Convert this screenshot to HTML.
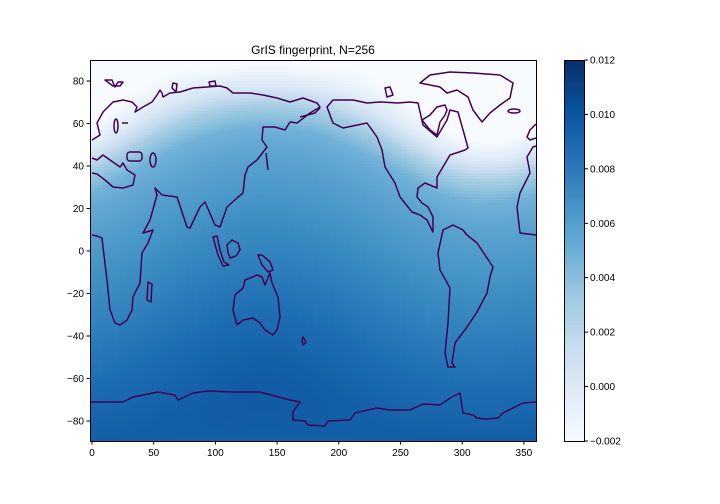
<!DOCTYPE html>
<html><head><meta charset="utf-8"><style>
body{margin:0;background:#fff;}
#wrap{position:relative;width:720px;height:504px;font-family:"Liberation Sans",sans-serif;}
canvas{position:absolute;image-rendering:pixelated;}
svg{position:absolute;left:0;top:0;}
text{font-family:"Liberation Sans",sans-serif;font-size:10px;fill:#000;}
</style></head><body>
<div id="wrap">
<canvas id="heat" width="256" height="128" style="left:90px;top:60px;width:446px;height:381px"></canvas>
<canvas id="cbar" width="1" height="200" style="left:564px;top:60px;width:20px;height:381px"></canvas>
<svg id="svg" width="720" height="504">
<text x="313" y="54" text-anchor="middle" style="font-size:12px">GrIS fingerprint, N=256</text>
<g id="coast" fill="none" stroke="#440154" stroke-width="1.5" stroke-linejoin="round">
<path d="M92,140 L100,135 L97,123 L103,112 L113,102 L123,100 L132,102 L137,107 L135,112 L143,107 L152,102 L157,95 L160,90 L162,93 L163,97 L170,93 L180,92 L193,88 L207,87 L220,86 L227,88 L233,93 L250,93 L263,95 L277,98 L290,102 L303,98 L317,103 L320,107 L310,113 L297,123 L290,122 L285,130 L275,127 L263,127 L262,140 L267,147 L257,160 L248,167 L245,175 L243,193 L237,198 L227,207 L220,227 L215,225 L205,202 L200,207 L190,228 L187,227 L177,197 L162,195 L155,188 L157,195 L150,220 L143,233 L153,230 L148,243 L142,253 L140,283 L133,297 L132,310 L127,320 L120,325 L115,323 L110,310 L107,280 L103,247 L102,238 L97,236 L92,235"/>
<path d="M300,117 L315,113 L320,108"/>
<path d="M92,158 L97,160 L103,155 L110,160 L120,167 L123,163 L127,170 L135,175 L133,185 L123,188 L113,187 L105,180 L97,174 L92,173"/>
<path d="M536,235 L520,233 L517,207 L520,193 L530,173 L527,157 L533,147 L536,146"/>
<path d="M536,124 L530,130 L527,137 L530,140 L536,138"/>
<ellipse cx="153" cy="160" rx="3" ry="7"/><rect x="127" y="152" width="15" height="9" rx="3"/>
<path d="M266,153 L268,170"/><path d="M148,282 L152,284 L151,302 L147,300 Z"/>
<ellipse cx="116" cy="126" rx="2" ry="7"/><path d="M122,123 L128,123"/>
<path d="M105,80 L112,80 L115,87 L118,82 L123,82 L120,86 L113,86 Z"/>
<path d="M173,83 L177,84 L176,92 L172,88 Z"/><path d="M209,82 L215,81 L216,86 L210,86 Z"/>
<path d="M245,280 L250,278 L257,275 L262,277 L265,285 L270,273 L272,283 L278,297 L280,317 L277,330 L273,335 L265,330 L260,323 L253,318 L243,320 L237,325 L233,310 L235,295 L243,288 Z"/>
<path d="M258,255 L262,255 L270,262 L273,270 L268,272 L262,265 Z"/>
<path d="M227,245 L232,240 L238,243 L240,250 L236,256 L230,258 L228,252 Z"/>
<path d="M213,237 L217,236 L220,250 L224,262 L229,265 L223,266 L218,255 Z"/>
<path d="M303,337 L306,342 L303,345 L302,341 Z"/>
<path d="M327,107 L333,123 L343,128 L367,123 L377,137 L382,150 L385,167 L395,183 L400,197 L412,212 L420,215 L427,220 L433,232 L433,217 L428,207 L422,203 L417,197 L418,188 L425,183 L437,188 L437,177 L450,155 L465,150 L468,148 L465,137 L458,112 L450,110 L447,120 L437,137 L423,125 L418,103 L410,102 L398,103 L380,102 L367,103 L353,100 L333,100 Z"/>
<path d="M420,83 L430,75 L450,72 L473,73 L500,75 L513,83 L510,98 L500,105 L490,113 L482,122 L473,110 L468,97 L457,90 L447,93 L440,87 Z"/>
<path d="M422,120 L430,115 L437,107 L445,105 L447,110 L445,115 L440,122 L437,135 L430,130 Z"/>
<path d="M385,88 L390,87 L393,95 L387,97 Z"/><ellipse cx="514" cy="111" rx="6" ry="2"/>
<path d="M443,230 L453,225 L463,230 L467,235 L477,243 L487,258 L493,267 L490,277 L487,293 L477,312 L467,327 L455,343 L452,363 L455,367 L448,367 L445,353 L448,323 L450,288 L440,270 L438,253 Z"/>
<path d="M90,402 L123,402 L133,397 L158,392 L175,395 L178,400 L193,393 L208,391 L233,392 L260,392 L290,400 L300,402 L293,412 L293,420 L305,421 L308,425 L325,426 L328,421 L350,420 L355,413 L377,408 L390,410 L410,410 L423,404 L440,405 L450,398 L460,393 L463,413 L473,415 L477,418 L485,419 L498,418 L503,413 L523,403 L536,402"/>
</g>
<rect x="90.5" y="60.5" width="446" height="381" fill="none" stroke="#000" stroke-width="1"/>
<rect x="564.5" y="60.5" width="20" height="381" fill="none" stroke="#000" stroke-width="1"/>
<g id="axes"></g>
</svg>
</div>
<script>
// fingerprint profile vs angular distance from Greenland
const distDeg = [0,10,20,30,40,50,60,70,80,90,100,110,120,130,140,150,160,170,180];
const fpValue = [-0.004,-0.003,-0.002,0.0,0.003,0.0048,0.0055,0.006,0.0064,0.0068,0.0072,0.0076,0.0080,0.0084,0.0088,0.0091,0.0094,0.0096,0.0097];
const xTicks = [0,50,100,150,200,250,300,350];
const yTicks = [-80,-60,-40,-20,0,20,40,60,80];
const cbTicks = [-0.002,0,0.002,0.004,0.006,0.008,0.010,0.012];
const cbLabels = ["\u22120.002","0.000","0.002","0.004","0.006","0.008","0.010","0.012"];
const src = [72,-40];
const vmin=-0.002, vmax=0.012;
const xs = lon => 92 + lon*1.234;
const ys = lat => 251 - lat*2.125;
const cy = v => 441 - (v-vmin)/(vmax-vmin)*381;
const blues=[[247,251,255],[222,235,247],[198,219,239],[158,202,225],[107,174,214],[66,146,198],[33,113,181],[8,81,156],[8,48,107]];
function cmap(t){t=Math.max(0,Math.min(1,t));const f=t*8,i=Math.min(7,Math.floor(f)),r=f-i;return blues[i].map((c,k)=>Math.round(c+(blues[i+1][k]-c)*r));}
function prof(d){for(let i=0;i<distDeg.length-1;i++){if(d<=distDeg[i+1]){const r=(d-distDeg[i])/(distDeg[i+1]-distDeg[i]);return fpValue[i]+(fpValue[i+1]-fpValue[i])*r;}}return fpValue[fpValue.length-1];}
const R=Math.PI/180;
const hc=document.getElementById('heat').getContext('2d');
const img=hc.createImageData(256,128);
for(let j=0;j<128;j++){const lat=90-(j+0.5)*180/128;
 for(let i=0;i<256;i++){const lon=-1.6+(i+0.5)*360/256;
  const c=Math.sin(lat*R)*Math.sin(src[0]*R)+Math.cos(lat*R)*Math.cos(src[0]*R)*Math.cos((lon-src[1])*R);
  const d=Math.acos(Math.max(-1,Math.min(1,c)))/R;
  const col=cmap((prof(d)-vmin)/(vmax-vmin));const o=(j*256+i)*4;
  img.data[o]=col[0];img.data[o+1]=col[1];img.data[o+2]=col[2];img.data[o+3]=255;}}
hc.putImageData(img,0,0);
const cc=document.getElementById('cbar').getContext('2d');
for(let k=0;k<200;k++){const col=cmap(1-(k+0.5)/200);cc.fillStyle=`rgb(${col})`;cc.fillRect(0,k,1,1);}
const ax=document.getElementById('axes');const NS='http://www.w3.org/2000/svg';
function mk(t,a){const e=document.createElementNS(NS,t);for(const k in a)e.setAttribute(k,a[k]);ax.appendChild(e);return e;}
xTicks.forEach(v=>{const x=xs(v);
 const l=mk('line',{x1:x,x2:x,y1:441,y2:444.5,stroke:'#000'});
 
 
 const t=mk('text',{x:x,y:456,'text-anchor':'middle'});t.textContent=v;
 
 });
yTicks.forEach(v=>{const y=ys(v);
 const l=mk('line',{x1:86.5,x2:90,y1:y,y2:y,stroke:'#000'});
 
 
 const t=mk('text',{x:84,y:y+3.5,'text-anchor':'end'});t.textContent=v<0?'\u2212'+(-v):v;
 
 });
cbTicks.forEach((v,i)=>{const y=cy(v);
 const l=mk('line',{x1:584.5,x2:588,y1:y,y2:y,stroke:'#000'});
 
 
 const t=mk('text',{x:590,y:y+3.5});t.textContent=cbLabels[i];
 
 });
</script>
</body></html>
